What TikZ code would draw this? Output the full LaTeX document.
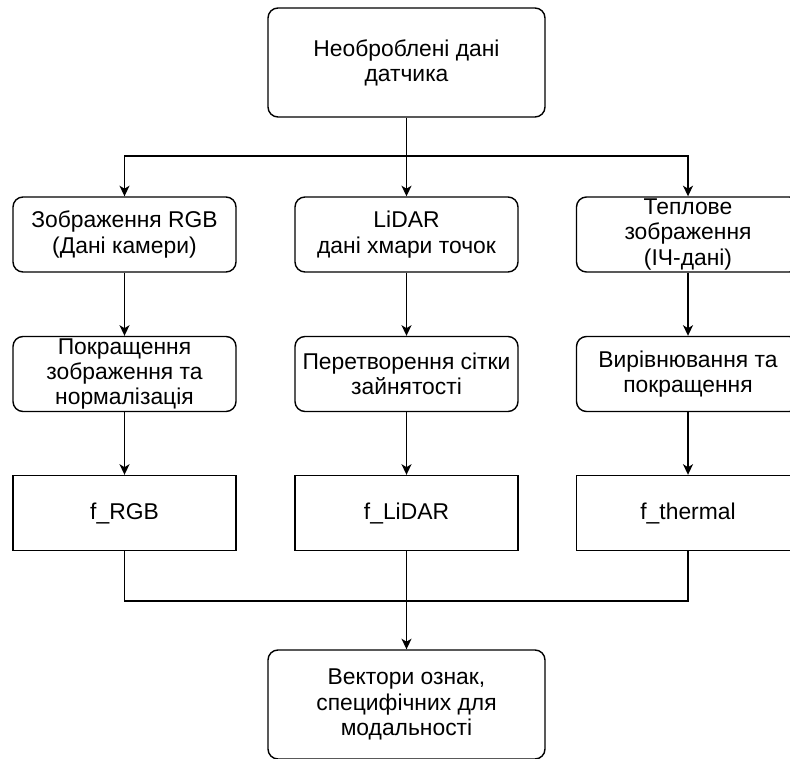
\documentclass[tikz,border=0pt]{standalone}
\usepackage{fontspec}
\setmainfont{Liberation Sans}
\usetikzlibrary{arrows.meta}

\begin{document}
\begin{tikzpicture}[x=0.03cm,y=-0.03cm,
  box/.style={draw,line width=1.2pt,rounded corners=0.3cm,align=center,
    inner xsep=1pt,inner ysep=0pt,minimum width=6.69cm,minimum height=2.25cm,
    font=\fontsize{19.5}{21.5}\selectfont},
  bigbox/.style={box,minimum width=8.31cm,minimum height=3.27cm},
  featbox/.style={box,sharp corners},
  flow/.style={line width=1.2pt,-{Stealth[length=9pt,width=8.5pt,inset=2.5pt]}},
  link/.style={line width=1.2pt}]
\useasboundingbox (0,0) rectangle (790,758);

% Source and sink
\node[bigbox] (raw) at (406.5,62.5) {Необроблені дані\\датчика};
\node[bigbox] (feat) at (406.5,704.5) {Вектори ознак,\\специфічних для\\модальності};

% Sensor inputs
\node[box] (rgb) at (124.5,234.5) {Зображення RGB\\(Дані камери)};
\node[box] (lidar) at (406.5,234.5) {LiDAR\\дані хмари точок};
\node[box] (thermal) at (688,234.5) {Теплове\\зображення\\(ІЧ-дані)};

% Preprocessing
\node[box] (enh) at (124.5,374) {Покращення\\зображення та\\нормалізація};
\node[box] (occ) at (406.5,374) {Перетворення сітки\\зайнятості};
\node[box] (reg) at (688,374) {Вирівнювання та\\покращення};

% Feature outputs
\node[featbox] (frgb) at (124.5,513) {f\_RGB};
\node[featbox] (flidar) at (406.5,513) {f\_LiDAR};
\node[featbox] (fthermal) at (688,513) {f\_thermal};

% Split and join points
\coordinate (split) at (406.5,156);
\coordinate (join) at (406.5,601);

\draw[flow] (raw) -- (lidar);
\draw[flow] (split) -| (rgb);
\draw[flow] (split) -| (thermal);
\foreach \a/\b/\c in {rgb/enh/frgb,lidar/occ/flidar,thermal/reg/fthermal}{%
  \draw[flow] (\a) -- (\b);
  \draw[flow] (\b) -- (\c);
}
\draw[link] (frgb) |- (join);
\draw[link] (fthermal) |- (join);
\draw[flow] (flidar) -- (feat);
\end{tikzpicture}
\end{document}
